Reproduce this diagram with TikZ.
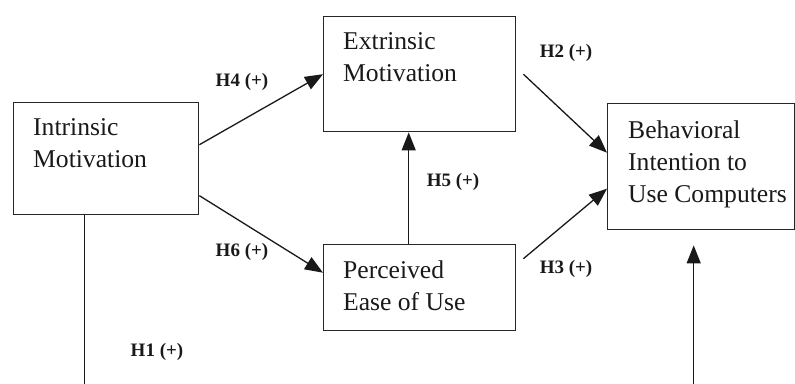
\documentclass[tikz,border=0pt]{standalone}
\usepackage{fontspec}
\setmainfont{Liberation Serif}
\usetikzlibrary{arrows.meta}
\begin{document}
\begin{tikzpicture}[x=1pt,y=-1pt,
  box/.style={draw=black!85,line width=1.4pt,inner sep=0pt,anchor=north west,fill=none},
  boxtext/.style={anchor=north west,inner sep=0pt,align=left,font=\fontsize{25.6}{32}\selectfont,text=black!90},
  hlabel/.style={font=\fontsize{19}{21}\selectfont\bfseries,text=black!90},
  arr/.style={draw=black!90,line width=1.3pt,-{Triangle[length=18pt,width=14pt]}}]
\useasboundingbox (0,0) rectangle (795,383);
\clip (0,0) rectangle (795,383);
% boxes
\node[box,minimum width=185pt,minimum height=112pt] (im) at (13,102) {};
\node[box,minimum width=192pt,minimum height=115pt] (em) at (323,16) {};
\node[box,minimum width=192pt,minimum height=86pt] (pe) at (323,244) {};
\node[box,minimum width=187pt,minimum height=126pt] (bi) at (607,103) {};
% texts
\node[boxtext] (imt) at (33,110) {\rule{0pt}{25pt}Intrinsic\\Motivation};
\node[boxtext] (emt) at (343,24) {\rule{0pt}{25pt}Extrinsic\\Motivation};
\node[boxtext] (pet) at (343,253) {\rule{0pt}{25pt}Perceived\\Ease of Use};
\node[boxtext] (bit) at (628,113) {\rule{0pt}{25pt}Behavioral\\Intention to\\Use Computers};
% connectors
\coordinate (h1tip) at ([xshift=-7.5pt,yshift=-15pt]bi.south);
\draw[arr] ([yshift=14pt]im.east) -- (em.west);
\draw[arr] ([yshift=-37pt]im.east) -- ([yshift=15pt]pe.west);
\draw[arr] ([xshift=7pt]em.east) -- ([yshift=14pt]bi.west);
\draw[arr] ([xshift=7pt,yshift=29pt]pe.east) -- ([yshift=-22pt]bi.west);
\draw[arr] ([xshift=-11pt]pe.north) -- ([xshift=-11pt]em.south);
\draw[arr] ([xshift=-21.5pt]im.south) -- ++(0,200) -| (h1tip);
% labels
\node[hlabel] (l4) at (242,82) {H4 (+)};
\node[hlabel] (l2) at (566,53) {H2 (+)};
\node[hlabel] (l5) at (453,182) {H5 (+)};
\node[hlabel] (l6) at (242,252) {H6 (+)};
\node[hlabel] (l3) at (566,269) {H3 (+)};
\node[hlabel] (l1) at (157,352) {H1 (+)};
\end{tikzpicture}
\end{document}
